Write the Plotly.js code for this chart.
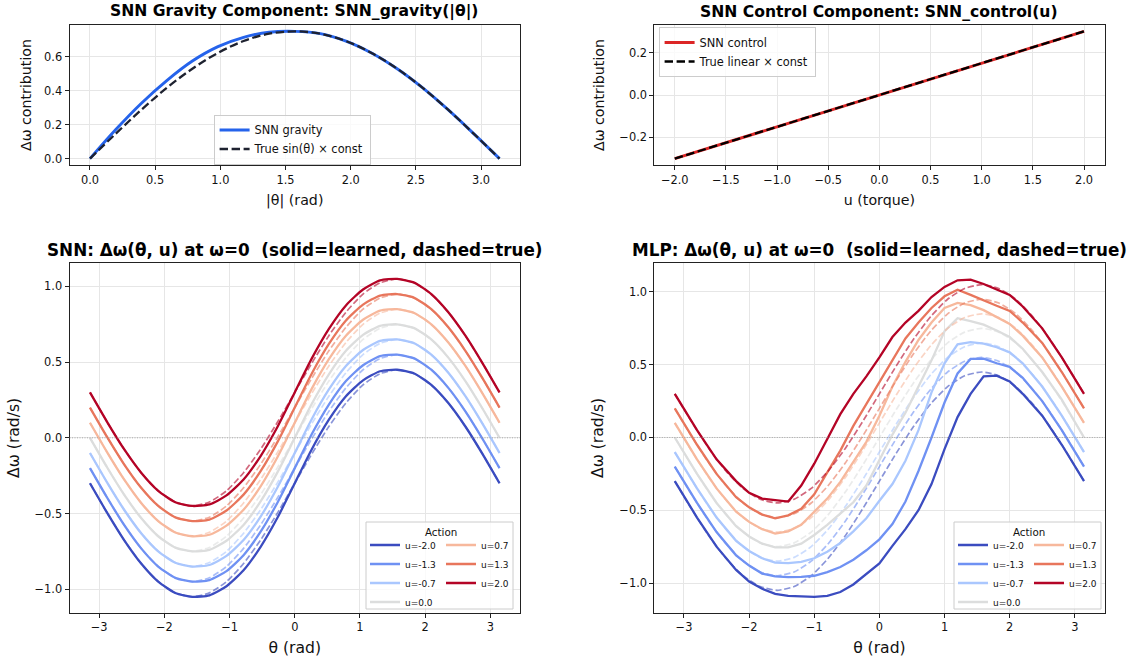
<!DOCTYPE html>
<html>
<head>
<meta charset="utf-8">
<script src="https://cdn.plot.ly/plotly-3.0.1.min.js"></script>
<style>
html,body{margin:0;padding:0;background:#fff;}
#chart{width:1136px;height:657px;}
</style>
</head>
<body>
<div id="chart"></div>
<script>
// ---------------- data ----------------
// Top-left: gravity component vs |theta|
const gravTheta   = [0.0000, 0.1963, 0.3927, 0.5890, 0.7854, 0.9817, 1.1781, 1.3744, 1.5708, 1.7671, 1.9635, 2.1598, 2.3562, 2.5525, 2.7489, 2.9452, 3.1416];
const snnGravity  = [0.000, 0.170, 0.325, 0.460, 0.575, 0.660, 0.715, 0.745, 0.750, 0.737, 0.693, 0.623, 0.530, 0.417, 0.287, 0.146, 0.000];
const trueGravity = [0.000, 0.146, 0.287, 0.417, 0.530, 0.623, 0.693, 0.736, 0.750, 0.736, 0.693, 0.623, 0.530, 0.417, 0.287, 0.146, 0.000];

// Top-right: control component vs torque
const torque      = [-2.0, -1.0, 0.0, 1.0, 2.0];
const snnControl  = [-0.300, -0.150, 0.000, 0.150, 0.300];
const trueControl = [-0.300, -0.150, 0.000, 0.150, 0.300];

// Bottom: actions
const actionLabels = ['u=-2.0', 'u=-1.3', 'u=-0.7', 'u=0.0', 'u=0.7', 'u=1.3', 'u=2.0'];

// theta grid for SNN and true curves
const theta = [-3.1416, -2.8798, -2.6180, -2.3562, -2.0944, -1.8326, -1.5708, -1.3090, -1.0472, -0.7854, -0.5236, -0.2618, 0.0000, 0.2618, 0.5236, 0.7854, 1.0472, 1.3090, 1.5708, 1.8326, 2.0944, 2.3562, 2.6180, 2.8798, 3.1416];

// True delta-omega (dashed), one array per action
const trueDw_m20 = [-0.300, -0.494, -0.675, -0.830, -0.950, -1.024, -1.050, -1.024, -0.950, -0.830, -0.675, -0.494, -0.300, -0.106, 0.075, 0.230, 0.350, 0.424, 0.450, 0.424, 0.350, 0.230, 0.075, -0.106, -0.300];
const trueDw_m13 = [-0.200, -0.394, -0.575, -0.730, -0.850, -0.924, -0.950, -0.924, -0.850, -0.730, -0.575, -0.394, -0.200, -0.006, 0.175, 0.330, 0.450, 0.524, 0.550, 0.524, 0.450, 0.330, 0.175, -0.006, -0.200];
const trueDw_m07 = [-0.100, -0.294, -0.475, -0.630, -0.750, -0.824, -0.850, -0.824, -0.750, -0.630, -0.475, -0.294, -0.100, 0.094, 0.275, 0.430, 0.550, 0.624, 0.650, 0.624, 0.550, 0.430, 0.275, 0.094, -0.100];
const trueDw_p00 = [0.000, -0.194, -0.375, -0.530, -0.650, -0.724, -0.750, -0.724, -0.650, -0.530, -0.375, -0.194, 0.000, 0.194, 0.375, 0.530, 0.650, 0.724, 0.750, 0.724, 0.650, 0.530, 0.375, 0.194, 0.000];
const trueDw_p07 = [0.100, -0.094, -0.275, -0.430, -0.550, -0.624, -0.650, -0.624, -0.550, -0.430, -0.275, -0.094, 0.100, 0.294, 0.475, 0.630, 0.750, 0.824, 0.850, 0.824, 0.750, 0.630, 0.475, 0.294, 0.100];
const trueDw_p13 = [0.200, 0.006, -0.175, -0.330, -0.450, -0.524, -0.550, -0.524, -0.450, -0.330, -0.175, 0.006, 0.200, 0.394, 0.575, 0.730, 0.850, 0.924, 0.950, 0.924, 0.850, 0.730, 0.575, 0.394, 0.200];
const trueDw_p20 = [0.300, 0.106, -0.075, -0.230, -0.350, -0.424, -0.450, -0.424, -0.350, -0.230, -0.075, 0.106, 0.300, 0.494, 0.675, 0.830, 0.950, 1.024, 1.050, 1.024, 0.950, 0.830, 0.675, 0.494, 0.300];

// SNN learned delta-omega (solid)
const snnDw_m20 = [-0.300, -0.494, -0.675, -0.830, -0.950, -1.025, -1.050, -1.040, -0.980, -0.875, -0.720, -0.525, -0.300, -0.075, 0.120, 0.275, 0.380, 0.440, 0.450, 0.425, 0.350, 0.230, 0.075, -0.106, -0.300];
const snnDw_m13 = [-0.200, -0.394, -0.575, -0.730, -0.850, -0.925, -0.950, -0.940, -0.880, -0.775, -0.620, -0.425, -0.200, 0.025, 0.220, 0.375, 0.480, 0.540, 0.550, 0.525, 0.450, 0.330, 0.175, -0.006, -0.200];
const snnDw_m07 = [-0.100, -0.294, -0.475, -0.630, -0.750, -0.825, -0.850, -0.840, -0.780, -0.675, -0.520, -0.325, -0.100, 0.125, 0.320, 0.475, 0.580, 0.640, 0.650, 0.625, 0.550, 0.430, 0.275, 0.094, -0.100];
const snnDw_p00 = [0.000, -0.194, -0.375, -0.530, -0.650, -0.725, -0.750, -0.740, -0.680, -0.575, -0.420, -0.225, 0.000, 0.225, 0.420, 0.575, 0.680, 0.740, 0.750, 0.725, 0.650, 0.530, 0.375, 0.194, 0.000];
const snnDw_p07 = [0.100, -0.094, -0.275, -0.430, -0.550, -0.625, -0.650, -0.640, -0.580, -0.475, -0.320, -0.125, 0.100, 0.325, 0.520, 0.675, 0.780, 0.840, 0.850, 0.825, 0.750, 0.630, 0.475, 0.294, 0.100];
const snnDw_p13 = [0.200, 0.006, -0.175, -0.330, -0.450, -0.525, -0.550, -0.540, -0.480, -0.375, -0.220, -0.025, 0.200, 0.425, 0.620, 0.775, 0.880, 0.940, 0.950, 0.925, 0.850, 0.730, 0.575, 0.394, 0.200];
const snnDw_p20 = [0.300, 0.106, -0.075, -0.230, -0.350, -0.425, -0.450, -0.440, -0.380, -0.275, -0.120, 0.075, 0.300, 0.525, 0.720, 0.875, 0.980, 1.040, 1.050, 1.025, 0.950, 0.830, 0.675, 0.494, 0.300];

// MLP learned delta-omega (solid)
const mlpTheta = [-3.1416, -2.8, -2.5, -2.2, -2.0, -1.8, -1.6, -1.4, -1.2, -1.0, -0.8, -0.6, -0.4, -0.2, 0.0, 0.2, 0.4, 0.6, 0.8, 1.0, 1.2, 1.4, 1.6, 1.8, 2.0, 2.2, 2.5, 2.8, 3.1416];
const mlpDw_m20 = [-0.30, -0.55, -0.75, -0.91, -0.99, -1.04, -1.075, -1.088, -1.092, -1.095, -1.088, -1.062, -1.01, -0.94, -0.865, -0.745, -0.63, -0.50, -0.32, -0.08, 0.14, 0.30, 0.42, 0.425, 0.385, 0.30, 0.15, -0.05, -0.30];
const mlpDw_m13 = [-0.20, -0.45, -0.65, -0.81, -0.88, -0.935, -0.955, -0.96, -0.958, -0.95, -0.925, -0.89, -0.84, -0.775, -0.70, -0.595, -0.44, -0.23, 0.00, 0.24, 0.44, 0.54, 0.542, 0.51, 0.485, 0.41, 0.25, 0.05, -0.20];
const mlpDw_m07 = [-0.10, -0.35, -0.55, -0.71, -0.78, -0.83, -0.86, -0.864, -0.855, -0.83, -0.785, -0.725, -0.645, -0.555, -0.435, -0.32, -0.16, 0.05, 0.31, 0.51, 0.64, 0.655, 0.645, 0.62, 0.585, 0.51, 0.35, 0.15, -0.10];
const mlpDw_p00 = [0.00, -0.25, -0.45, -0.61, -0.68, -0.73, -0.755, -0.755, -0.73, -0.67, -0.60, -0.525, -0.445, -0.33, -0.16, 0.02, 0.17, 0.35, 0.53, 0.73, 0.82, 0.80, 0.775, 0.735, 0.69, 0.61, 0.45, 0.26, 0.00];
const mlpDw_p07 = [0.10, -0.15, -0.35, -0.51, -0.58, -0.63, -0.66, -0.645, -0.60, -0.51, -0.42, -0.305, -0.17, -0.03, 0.15, 0.35, 0.52, 0.67, 0.79, 0.89, 0.925, 0.91, 0.875, 0.825, 0.78, 0.70, 0.55, 0.35, 0.10];
const mlpDw_p13 = [0.20, -0.05, -0.25, -0.41, -0.48, -0.53, -0.555, -0.535, -0.49, -0.39, -0.24, -0.09, 0.08, 0.23, 0.38, 0.54, 0.68, 0.79, 0.89, 0.97, 1.015, 0.98, 0.94, 0.905, 0.87, 0.79, 0.65, 0.45, 0.20];
const mlpDw_p20 = [0.30, 0.05, -0.15, -0.30, -0.38, -0.42, -0.43, -0.44, -0.33, -0.18, -0.01, 0.16, 0.30, 0.42, 0.55, 0.69, 0.79, 0.87, 0.965, 1.035, 1.08, 1.085, 1.055, 1.02, 0.98, 0.90, 0.75, 0.55, 0.30];

const trueRows = [trueDw_m20, trueDw_m13, trueDw_m07, trueDw_p00, trueDw_p07, trueDw_p13, trueDw_p20];
const snnRows  = [snnDw_m20, snnDw_m13, snnDw_m07, snnDw_p00, snnDw_p07, snnDw_p13, snnDw_p20];
const mlpRows  = [mlpDw_m20, mlpDw_m13, mlpDw_m07, mlpDw_p00, mlpDw_p07, mlpDw_p13, mlpDw_p20];

// ---------------- style ----------------
const actionColors = ['#3b4cc0', '#6f91f3', '#aac7fe', '#dcdddd', '#f7b89c', '#e8765c', '#b40426'];
const FONT = 'DejaVu Sans';
const W = 1136, H = 657;
const px = v => v / W;          // horizontal pixel -> paper
const py = v => 1 - v / H;      // vertical pixel -> paper

const traces = [];

// top-left
traces.push({x: gravTheta, y: snnGravity, type: 'scatter', mode: 'lines', name: 'SNN gravity',
  line: {color: '#2563eb', width: 2.9, shape: 'spline', smoothing: 1}, xaxis: 'x', yaxis: 'y', legend: 'legend'});
traces.push({x: gravTheta, y: trueGravity, type: 'scatter', mode: 'lines', name: 'True sin(θ) × const',
  line: {color: '#1e2230', width: 2.3, dash: '8.4px,3.6px', shape: 'spline', smoothing: 1}, xaxis: 'x', yaxis: 'y', legend: 'legend'});

// top-right
traces.push({x: torque, y: snnControl, type: 'scatter', mode: 'lines', name: 'SNN control',
  line: {color: '#dc2626', width: 2.9}, xaxis: 'x2', yaxis: 'y2', legend: 'legend2'});
traces.push({x: torque, y: trueControl, type: 'scatter', mode: 'lines', name: 'True linear × const',
  line: {color: '#000000', width: 2.3, dash: '8.4px,3.6px'}, xaxis: 'x2', yaxis: 'y2', legend: 'legend2'});

// bottom panels
for (let i = 0; i < actionLabels.length; i++) {
  const c = actionColors[i];
  traces.push({x: theta, y: snnRows[i], type: 'scatter', mode: 'lines', name: actionLabels[i],
    line: {color: c, width: 2.3, shape: 'spline', smoothing: 0.6}, xaxis: 'x3', yaxis: 'y3',
    legend: i < 4 ? 'legend3' : 'legend4'});
  traces.push({x: theta, y: trueRows[i], type: 'scatter', mode: 'lines', name: actionLabels[i] + ' true',
    showlegend: false, opacity: 0.6,
    line: {color: c, width: 1.7, dash: '6.3px,2.7px', shape: 'spline', smoothing: 0.6}, xaxis: 'x3', yaxis: 'y3'});
}
for (let i = 0; i < actionLabels.length; i++) {
  const c = actionColors[i];
  traces.push({x: mlpTheta, y: mlpRows[i], type: 'scatter', mode: 'lines', name: actionLabels[i],
    line: {color: c, width: 2.3}, xaxis: 'x4', yaxis: 'y4',
    legend: i < 4 ? 'legend5' : 'legend6'});
  traces.push({x: theta, y: trueRows[i], type: 'scatter', mode: 'lines', name: actionLabels[i] + ' true',
    showlegend: false, opacity: 0.6,
    line: {color: c, width: 1.7, dash: '6.3px,2.7px', shape: 'spline', smoothing: 0.6}, xaxis: 'x4', yaxis: 'y4'});
}

const axBase = {
  showline: true, mirror: true, linecolor: '#222', linewidth: 1,
  ticks: 'outside', ticklen: 4, tickwidth: 1, tickcolor: '#222',
  showgrid: true, gridcolor: '#e6e6e6', gridwidth: 1, zeroline: false,
  tickfont: {family: FONT, size: 11.4, color: '#111'}, automargin: false
};
function ax(extra) { return Object.assign({}, axBase, extra); }

const leftDom = [px(69.5), px(520)];
const rightDom = [px(654.3), px(1104.5)];
const topDom = [py(165), py(25)];
const botDom = [py(612.7), py(263)];

const topLabFont = {family: FONT, size: 14.2, color: '#111'};
const botLabFont = {family: FONT, size: 15.6, color: '#111'};
const legFontTop = {family: FONT, size: 11.4, color: '#111'};
const legFontBot = {family: FONT, size: 9, color: '#111'};

const layout = {
  width: W, height: H,
  margin: {l: 0, r: 0, t: 0, b: 0},
  paper_bgcolor: '#ffffff', plot_bgcolor: '#ffffff',
  font: {family: FONT, color: '#111'},
  xaxis: ax({domain: leftDom, anchor: 'y', range: [-0.1571, 3.2987], tickvals: [0, 0.5, 1, 1.5, 2, 2.5, 3], tickformat: '.1f',
    title: {text: '|θ| (rad)', font: topLabFont, standoff: 9}}),
  yaxis: ax({domain: topDom, anchor: 'x', range: [-0.0375, 0.7875], tickvals: [0, 0.2, 0.4, 0.6], tickformat: '.1f',
    title: {text: 'Δω contribution', font: topLabFont, standoff: 9}}),
  xaxis2: ax({domain: rightDom, anchor: 'y2', range: [-2.2, 2.2], tickvals: [-2, -1.5, -1, -0.5, 0, 0.5, 1, 1.5, 2], tickformat: '.1f',
    title: {text: 'u (torque)', font: topLabFont, standoff: 9}}),
  yaxis2: ax({domain: topDom, anchor: 'x2', range: [-0.33, 0.33], tickvals: [-0.2, 0, 0.2], tickformat: '.1f',
    title: {text: 'Δω contribution', font: topLabFont, standoff: 11}}),
  xaxis3: ax({domain: leftDom, anchor: 'y3', range: [-3.4558, 3.4558], tickvals: [-3, -2, -1, 0, 1, 2, 3],
    title: {text: 'θ (rad)', font: botLabFont, standoff: 8}}),
  yaxis3: ax({domain: botDom, anchor: 'x3', range: [-1.155, 1.155], tickvals: [-1, -0.5, 0, 0.5, 1], tickformat: '.1f',
    title: {text: 'Δω (rad/s)', font: botLabFont, standoff: 11}}),
  xaxis4: ax({domain: rightDom, anchor: 'y4', range: [-3.4558, 3.4558], tickvals: [-3, -2, -1, 0, 1, 2, 3],
    title: {text: 'θ (rad)', font: botLabFont, standoff: 8}}),
  yaxis4: ax({domain: botDom, anchor: 'x4', range: [-1.204, 1.199], tickvals: [-1, -0.5, 0, 0.5, 1], tickformat: '.1f',
    title: {text: 'Δω (rad/s)', font: botLabFont, standoff: 11}}),
  legend: {x: px(213.6), xanchor: 'left', y: py(114.5), yanchor: 'top', bgcolor: 'rgba(255,255,255,0.8)',
    bordercolor: '#cccccc', borderwidth: 1, font: legFontTop},
  legend2: {x: px(658.6), xanchor: 'left', y: py(27), yanchor: 'top', bgcolor: 'rgba(255,255,255,0.8)',
    bordercolor: '#cccccc', borderwidth: 1, font: legFontTop},
  legend3: {x: px(365), xanchor: 'left', y: py(530.5), yanchor: 'top', bgcolor: 'rgba(0,0,0,0)', borderwidth: 0, font: legFontBot},
  legend4: {x: px(441), xanchor: 'left', y: py(530.5), yanchor: 'top', bgcolor: 'rgba(0,0,0,0)', borderwidth: 0, font: legFontBot},
  legend5: {x: px(953), xanchor: 'left', y: py(530.5), yanchor: 'top', bgcolor: 'rgba(0,0,0,0)', borderwidth: 0, font: legFontBot},
  legend6: {x: px(1029), xanchor: 'left', y: py(530.5), yanchor: 'top', bgcolor: 'rgba(0,0,0,0)', borderwidth: 0, font: legFontBot},
  shapes: [
    {type: 'line', xref: 'x3 domain', x0: 0, x1: 1, yref: 'y3', y0: 0, y1: 0, layer: 'above',
      line: {color: '#8c8c8c', width: 0.7, dash: '1px,1.5px'}},
    {type: 'line', xref: 'x4 domain', x0: 0, x1: 1, yref: 'y4', y0: 0, y1: 0, layer: 'above',
      line: {color: '#8c8c8c', width: 0.7, dash: '1px,1.5px'}},
    {type: 'rect', xref: 'paper', yref: 'paper', x0: px(366), x1: px(513), y0: py(609), y1: py(522), layer: 'above',
      fillcolor: 'rgba(255,255,255,0.8)', line: {color: '#cccccc', width: 1}},
    {type: 'rect', xref: 'paper', yref: 'paper', x0: px(954), x1: px(1101), y0: py(609), y1: py(522), layer: 'above',
      fillcolor: 'rgba(255,255,255,0.8)', line: {color: '#cccccc', width: 1}}
  ],
  annotations: [
    {text: '<b>SNN Gravity Component: SNN_gravity(|θ|)</b>', xref: 'paper', yref: 'paper', x: px(294.75), y: py(25),
      xanchor: 'center', yanchor: 'bottom', yshift: 2, showarrow: false, font: {family: FONT, size: 15.6, color: '#000'}},
    {text: '<b>SNN Control Component: SNN_control(u)</b>', xref: 'paper', yref: 'paper', x: px(879.4), y: py(25),
      xanchor: 'center', yanchor: 'bottom', yshift: 2, showarrow: false, font: {family: FONT, size: 15.6, color: '#000'}},
    {text: '<b>SNN: Δω(θ, u) at ω=0\u00a0 (solid=learned, dashed=true)</b>', xref: 'paper', yref: 'paper', x: px(294.75), y: py(263),
      xanchor: 'center', yanchor: 'bottom', yshift: 1, showarrow: false, font: {family: FONT, size: 16.8, color: '#000'}},
    {text: '<b>MLP: Δω(θ, u) at ω=0\u00a0 (solid=learned, dashed=true)</b>', xref: 'paper', yref: 'paper', x: px(879.4), y: py(263),
      xanchor: 'center', yanchor: 'bottom', yshift: 1, showarrow: false, font: {family: FONT, size: 16.8, color: '#000'}},
    {text: 'Action', xref: 'paper', yref: 'paper', x: px(441), y: py(532), xanchor: 'center', yanchor: 'middle',
      showarrow: false, font: {family: FONT, size: 10.3, color: '#111'}},
    {text: 'Action', xref: 'paper', yref: 'paper', x: px(1029), y: py(532), xanchor: 'center', yanchor: 'middle',
      showarrow: false, font: {family: FONT, size: 10.3, color: '#111'}}
  ]
};

Plotly.newPlot('chart', traces, layout, {displayModeBar: false, staticPlot: true});
</script>
</body>
</html>
